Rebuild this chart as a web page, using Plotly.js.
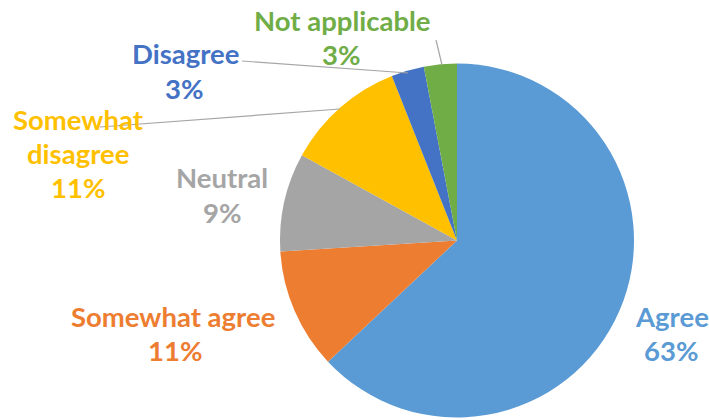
<!DOCTYPE html>
<html>
<head>
<meta charset="utf-8">
<script src="https://cdn.plot.ly/plotly-3.0.1.min.js"></script>
<style>html,body{margin:0;padding:0;background:#fff;}#chart{width:709px;height:420px;}</style>
</head>
<body>
<div id="chart"></div>
<script>
// Data
const categories = ["Agree", "Somewhat agree", "Neutral", "Somewhat disagree", "Disagree", "Not applicable"];
const shares = [63, 11, 9, 11, 3, 3];
const colors = ["#5B9BD5", "#ED7D31", "#A5A5A5", "#FFC000", "#4472C4", "#70AD47"];

// Label layout (pixel positions of each label's lines, independent of data)
const labelLines = [
  [["Agree", 672, 316], ["%", 671, 350]],
  [["Somewhat agree", 173, 316], ["%", 175, 350]],
  [["Neutral", 222, 177], ["%", 222, 212]],
  [["Somewhat", 78, 119], ["disagree", 78, 153], ["%", 78, 188]],
  [["Disagree", 185, 53], ["%", 184, 88]],
  [["Not applicable", 342, 20], ["%", 341, 55]]
];
const leaders = [null, null, null, [[100, 127], [340, 109]], [[242, 61], [408, 73]], [[436, 40], [442, 65]]];

const W = 709, H = 420;
const total = shares.reduce((a, b) => a + b, 0);
const fontFam = "Lato, 'Open Sans', sans-serif";

const annotations = [];
const shapes = [];
categories.forEach((c, i) => {
  const pct = Math.round(shares[i] / total * 100) + "%";
  labelLines[i].forEach(([t, px, py]) => {
    annotations.push({
      xref: "paper", yref: "paper", x: px / W, y: 1 - py / H,
      xanchor: "center", yanchor: "middle", showarrow: false,
      text: "<b>" + (t === "%" ? pct : t) + "</b>",
      font: {family: fontFam, size: 27.5, color: colors[i]}
    });
  });
  if (leaders[i]) {
    const [[x0, y0], [x1, y1]] = leaders[i];
    shapes.push({type: "line", xref: "paper", yref: "paper",
      x0: x0 / W, y0: 1 - y0 / H, x1: x1 / W, y1: 1 - y1 / H,
      line: {color: "#A6A6A6", width: 1.2}});
  }
});

const cx = 457, cy = 240.5, r = 177;
const trace = {
  type: "pie",
  labels: categories,
  values: shares,
  sort: false,
  direction: "clockwise",
  rotation: 0,
  marker: {colors: colors, line: {width: 0}},
  textinfo: "none",
  hoverinfo: "label+percent",
  showlegend: false,
  domain: {x: [(cx - r) / W, (cx + r) / W], y: [1 - (cy + r) / H, 1 - (cy - r) / H]}
};

Plotly.newPlot("chart", [trace], {
  width: W, height: H,
  margin: {l: 0, r: 0, t: 0, b: 0},
  paper_bgcolor: "#ffffff",
  annotations: annotations,
  shapes: shapes
}, {displayModeBar: false, staticPlot: true});
</script>
</body>
</html>
